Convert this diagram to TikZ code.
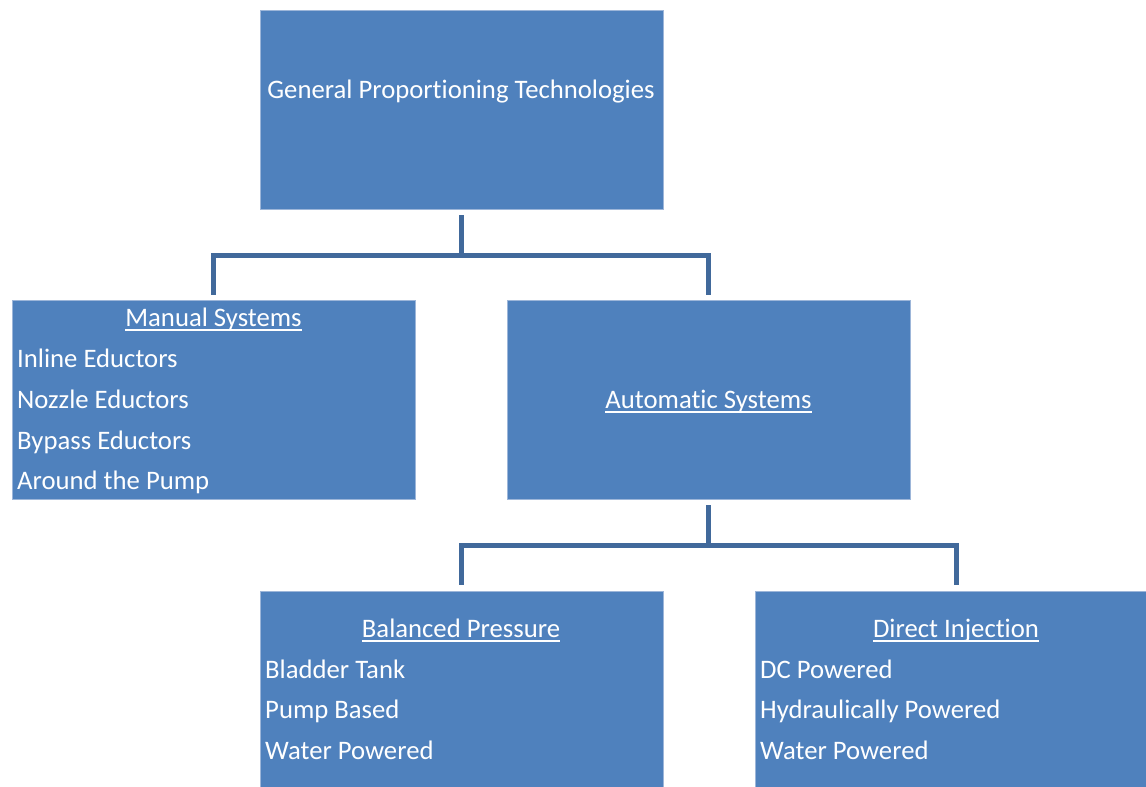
\documentclass[tikz,border=0pt]{standalone}
\usepackage{fontspec}
\setmainfont{Carlito}[Ligatures={NoCommon}]
\usetikzlibrary{calc}
\definecolor{boxfill}{HTML}{4F81BD}
\definecolor{boxedge}{HTML}{9DB6D9}
\definecolor{conn}{HTML}{41699B}
\newcommand{\myul}[1]{\setbox0\hbox{#1}\rlap{\rule[-4.6pt]{\wd0}{1.3pt}}\box0}
\begin{document}
\begin{tikzpicture}[x=1pt,y=-1pt,
  box/.style={draw=boxedge,line width=0.8pt,fill=boxfill,minimum width=403pt,minimum height=199pt,inner sep=0pt,outer sep=0pt},
  txt/.style={text=white,inner sep=0pt,font=\fontsize{26.7}{31}\selectfont},
  connector/.style={draw=conn,line width=5pt},
]
\useasboundingbox (0,0) rectangle (1146,787);
\clip (0,0) rectangle (1146,787);

\node[box] (top) at (461.5,109.5) {};
\node[box] (manual) at (213.5,399.5) {};
\node[box] (auto) at (708.5,399.5) {};
\node[box] (bal) at (461.5,690.5) {};
\node[box] (dir) at (956.5,690.5) {};

\node[txt,anchor=base] (topT) at (461,98) {General Proportioning Technologies};

\node[txt,anchor=base] (manT) at (213.5,326) {\myul{Manual Systems}};
\node[txt,anchor=base west] (man1) at (17,367) {Inline Eductors};
\node[txt,anchor=base west] (man2) at (17,408) {Nozzle Eductors};
\node[txt,anchor=base west] (man3) at (17,449) {Bypass Eductors};
\node[txt,anchor=base west] (man4) at (17,489) {Around the Pump};

\node[txt,anchor=base] (autoT) at (708.5,408) {\myul{Automatic Systems}};

\node[txt,anchor=base] (balT) at (461,637) {\myul{Balanced Pressure}};
\node[txt,anchor=base west] (bal1) at (265,678) {Bladder Tank};
\node[txt,anchor=base west] (bal2) at (265,718) {Pump Based};
\node[txt,anchor=base west] (bal3) at (265,759) {Water Powered};

\node[txt,anchor=base] (dirT) at (956,637) {\myul{Direct Injection}};
\node[txt,anchor=base west] (dir1) at (760,678) {DC Powered};
\node[txt,anchor=base west] (dir2) at (760,718) {Hydraulically Powered};
\node[txt,anchor=base west] (dir3) at (760,759) {Water Powered};

\draw[connector,shorten <=6pt,shorten >=5pt] (top.south) -- ++(0,46.5) -| (manual.north);
\draw[connector,shorten <=6pt,shorten >=5pt] (top.south) -- ++(0,46.5) -| (auto.north);
\draw[connector,shorten <=6pt,shorten >=6pt] (auto.south) -- ++(0,46.5) -| (bal.north);
\draw[connector,shorten <=6pt,shorten >=6pt] (auto.south) -- ++(0,46.5) -| (dir.north);
\end{tikzpicture}
\end{document}
